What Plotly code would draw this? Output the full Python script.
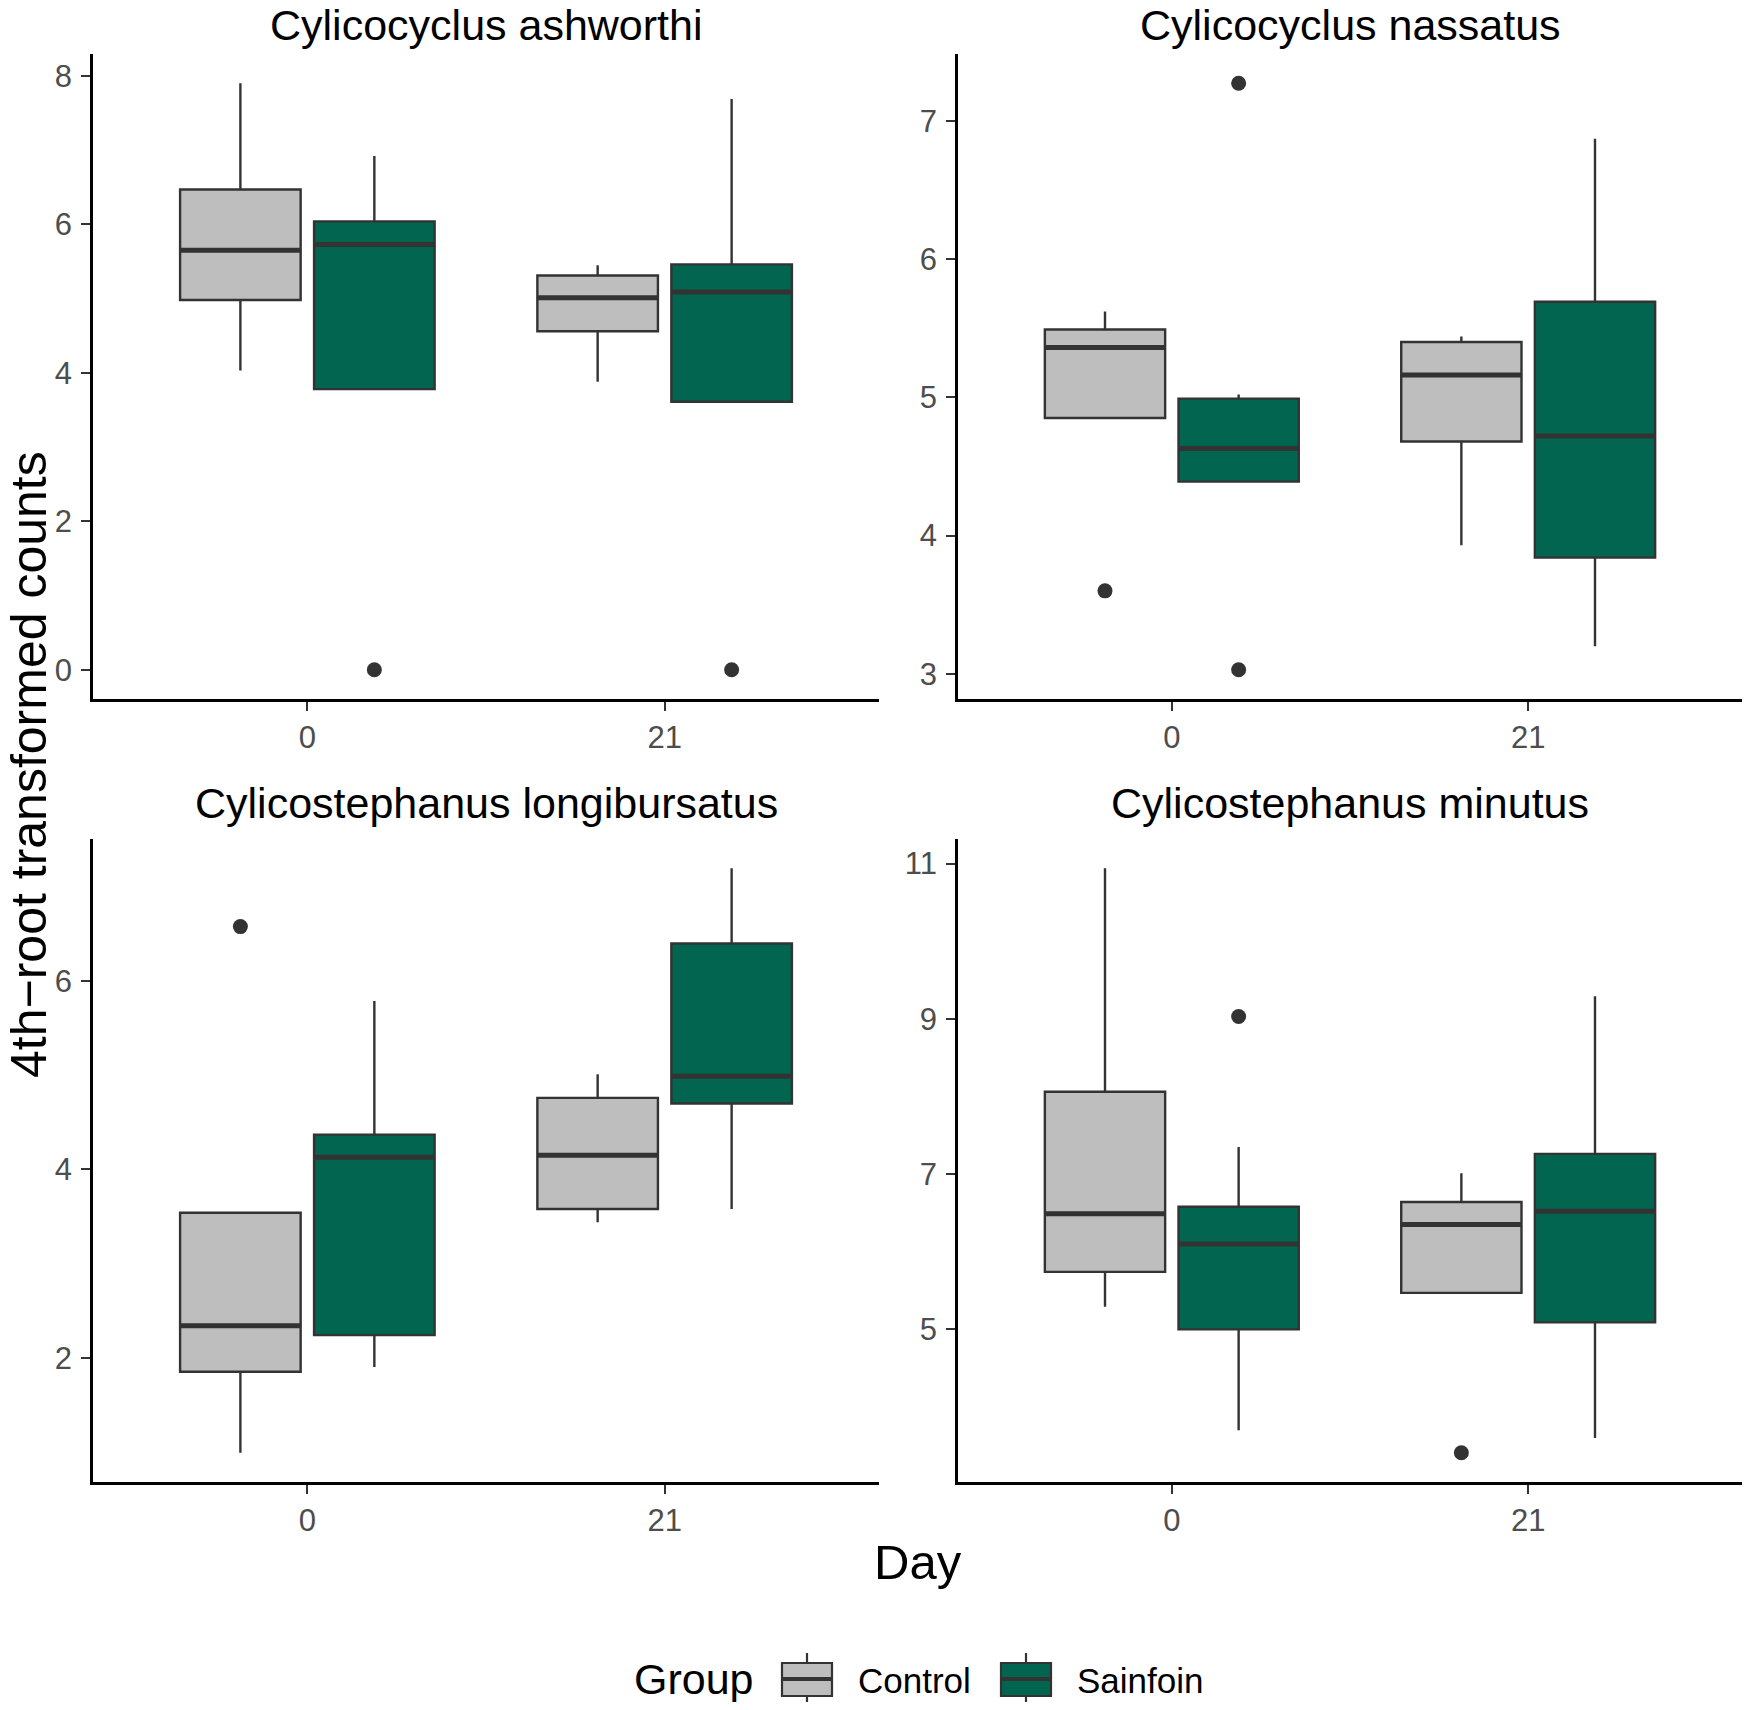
import plotly.graph_objects as go

# facets, x categories and groups
species = ["Cylicocyclus ashworthi", "Cylicocyclus nassatus",
           "Cylicostephanus longibursatus", "Cylicostephanus minutus"]
days = ["0", "21"]
groups = ["Control", "Sainfoin"]

# box statistics, rows = species, columns = day 0 / day 21
control_lower = [[4.03, 3.88], [4.85, 3.93], [0.99, 3.44], [5.29, 5.47]]
control_q1 = [[4.98, 4.56], [4.85, 4.68], [1.85, 3.58], [5.74, 5.47]]
control_median = [[5.65, 5.01], [5.36, 5.16], [2.34, 4.15], [6.49, 6.35]]
control_q3 = [[6.47, 5.31], [5.49, 5.40], [3.54, 4.76], [8.06, 6.64]]
control_upper = [[7.90, 5.45], [5.62, 5.44], [3.54, 5.01], [10.94, 7.01]]
control_outliers = [[[], []], [[3.60], []], [[6.58], []], [[], [3.41]]]

sainfoin_lower = [[3.78, 3.61], [4.39, 3.20], [1.90, 3.58], [3.70, 3.60]]
sainfoin_q1 = [[3.78, 3.61], [4.39, 3.84], [2.24, 4.70], [5.00, 5.09]]
sainfoin_median = [[5.73, 5.09], [4.63, 4.72], [4.13, 4.99], [6.10, 6.52]]
sainfoin_q3 = [[6.04, 5.46], [4.99, 5.69], [4.37, 6.40], [6.58, 7.26]]
sainfoin_upper = [[6.92, 7.69], [5.02, 6.87], [5.79, 7.20], [7.35, 9.29]]
sainfoin_outliers = [[[0.0], [0.0]], [[7.27, 3.03], []], [[], []], [[9.03], []]]

# the html body has an 8px margin, so the figure is made smaller to fit
PAGE_W, PAGE_H = 1750, 1710
OFF = 8
W, H = PAGE_W - 2 * OFF, PAGE_H - 2 * OFF
FONT = "Liberation Sans, Arial, sans-serif"
FILLS = {"Control": "#BEBEBE", "Sainfoin": "#02654F"}
EDGE = "#333333"

DODGE = 0.75          # total width of the dodged pair
BOX_W = DODGE / 2 * 0.9

stats = {
    "Control": (control_lower, control_q1, control_median, control_q3,
                control_upper, control_outliers),
    "Sainfoin": (sainfoin_lower, sainfoin_q1, sainfoin_median, sainfoin_q3,
                 sainfoin_upper, sainfoin_outliers),
}


def px_x(p):
    # page pixel -> paper fraction
    return min(1.0, max(0.0, (p - OFF) / W))


def px_y(p):
    return min(1.0, max(0.0, 1 - (p - OFF) / H))


# panel boxes in page pixels: (left, right, top, bottom)
cols = [(93, 879), (958, 1742)]
rows = [(54, 699), (839, 1482)]

fig = go.Figure()
layout = {}

for s, name in enumerate(species):
    r, c = divmod(s, 2)
    n = s + 1
    xa = "x" if n == 1 else "x%d" % n
    ya = "y" if n == 1 else "y%d" % n

    allvals = []
    for g_i, g in enumerate(groups):
        lower, q1, med, q3, upper, outl = stats[g]
        offset = (g_i - 0.5) * DODGE / 2
        pos = [d + offset for d in range(len(days))]
        fig.add_trace(go.Box(
            x=pos, q1=q1[s], median=med[s], q3=q3[s],
            lowerfence=lower[s], upperfence=upper[s],
            width=BOX_W, whiskerwidth=0, boxpoints=False,
            fillcolor=FILLS[g], line=dict(color=EDGE, width=2.4),
            name=g, showlegend=False, hoverinfo="skip",
            xaxis=xa, yaxis=ya))
        # thicker median bar, as ggplot draws it
        mx, my = [], []
        for p, m in zip(pos, med[s]):
            mx += [p - BOX_W / 2, p + BOX_W / 2, None]
            my += [m, m, None]
        fig.add_trace(go.Scatter(
            x=mx, y=my, mode="lines", line=dict(color=EDGE, width=5),
            showlegend=False, hoverinfo="skip", xaxis=xa, yaxis=ya))
        ox, oy = [], []
        for p, vals in zip(pos, outl[s]):
            ox += [p] * len(vals)
            oy += vals
        if ox:
            fig.add_trace(go.Scatter(
                x=ox, y=oy, mode="markers",
                marker=dict(color=EDGE, size=15),
                showlegend=False, hoverinfo="skip", xaxis=xa, yaxis=ya))
        allvals += lower[s] + upper[s] + sum(outl[s], [])

    lo, hi = min(allvals), max(allvals)
    pad = (hi - lo) * 0.05
    dtick, tick0 = {0: (2, 0), 1: (1, 0), 2: (2, 0), 3: (2, 1)}[s]

    left, right = cols[c]
    top, bottom = rows[r]
    axis_common = dict(
        showline=True, linecolor="black", linewidth=2.6,
        ticks="outside", ticklen=9, tickwidth=2.4, tickcolor=EDGE,
        tickfont=dict(family=FONT, size=31, color="#4D4D4D"),
        showgrid=False, zeroline=False, fixedrange=True)
    layout["xaxis" if n == 1 else "xaxis%d" % n] = dict(
        axis_common, domain=[px_x(left), px_x(right)], anchor=ya,
        range=[-0.6, len(days) - 0.4],
        tickmode="array", tickvals=list(range(len(days))), ticktext=days)
    layout["yaxis" if n == 1 else "yaxis%d" % n] = dict(
        axis_common, domain=[px_y(bottom), px_y(top)], anchor=xa,
        range=[lo - pad, hi + pad], tick0=tick0, dtick=dtick,
        ticklabelstandoff=3)

annotations = []
for s, name in enumerate(species):
    r, c = divmod(s, 2)
    left, right = cols[c]
    annotations.append(dict(
        text=name, xref="paper", yref="paper",
        x=px_x((left + right) / 2), y=px_y([25, 803][r]),
        xanchor="center", yanchor="middle", showarrow=False,
        font=dict(family=FONT, size=43, color="black")))

annotations.append(dict(
    text="4th\u2212root transformed counts", xref="paper", yref="paper",
    x=px_x(29), y=px_y(765), textangle=-90, xanchor="center",
    yanchor="middle", showarrow=False,
    font=dict(family=FONT, size=50, color="black")))
annotations.append(dict(
    text="Day", xref="paper", yref="paper", x=px_x(918), y=px_y(1562),
    xanchor="center", yanchor="middle", showarrow=False,
    font=dict(family=FONT, size=49, color="black")))

# hand-drawn legend in the ggplot style
shapes = []
leg_y = 1679
annotations.append(dict(
    text="Group", xref="paper", yref="paper", x=px_x(694), y=px_y(leg_y),
    xanchor="center", yanchor="middle", showarrow=False,
    font=dict(family=FONT, size=43, color="black")))
for g, kx, tx in [("Control", 782, 856), ("Sainfoin", 1001, 1075)]:
    shapes.append(dict(type="line", xref="paper", yref="paper",
                       x0=px_x(kx + 25), x1=px_x(kx + 25),
                       y0=px_y(1653), y1=px_y(1704),
                       line=dict(color=EDGE, width=2.2)))
    shapes.append(dict(type="rect", xref="paper", yref="paper",
                       x0=px_x(kx), x1=px_x(kx + 50),
                       y0=px_y(1663), y1=px_y(1696),
                       fillcolor=FILLS[g], line=dict(color=EDGE, width=2.2)))
    shapes.append(dict(type="line", xref="paper", yref="paper",
                       x0=px_x(kx), x1=px_x(kx + 50),
                       y0=px_y(leg_y), y1=px_y(leg_y),
                       line=dict(color=EDGE, width=4)))
    annotations.append(dict(
        text=g, xref="paper", yref="paper", x=px_x(tx), y=px_y(leg_y + 1),
        xanchor="left", yanchor="middle", showarrow=False,
        font=dict(family=FONT, size=35, color="black")))

fig.update_layout(
    width=W, height=H,
    margin=dict(l=0, r=0, t=0, b=0),
    paper_bgcolor="white", plot_bgcolor="white",
    boxmode="overlay", showlegend=False,
    annotations=annotations, shapes=shapes,
    **layout)

fig.write_html("out.html")
